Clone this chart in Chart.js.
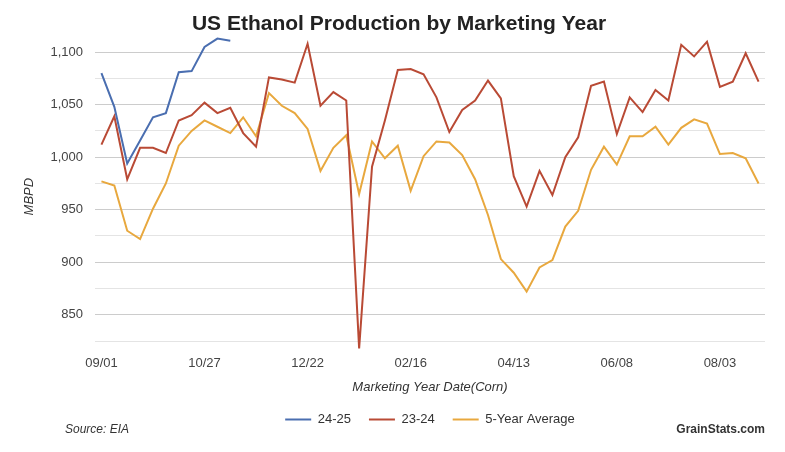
<!DOCTYPE html>
<html>
<head>
<meta charset="utf-8">
<script src="https://cdn.jsdelivr.net/npm/chart.js@4"></script>
<style>
  html, body { margin: 0; padding: 0; background: #fff; }
  #wrap { width: 785px; height: 452px; }
</style>
</head>
<body>
<div id="wrap"><canvas id="grafico"></canvas></div>
<script>
// weekly marketing year dates
const weeks = [
  "09/01","09/08","09/15","09/22","09/29","10/06","10/13","10/20",
  "10/27","11/03","11/10","11/17","11/24","12/01","12/08","12/15",
  "12/22","12/29","01/05","01/12","01/19","01/26","02/02","02/09",
  "02/16","02/23","03/02","03/09","03/16","03/23","03/30","04/06",
  "04/13","04/20","04/27","05/04","05/11","05/18","05/25","06/01",
  "06/08","06/15","06/22","06/29","07/06","07/13","07/20","07/27",
  "08/03","08/10","08/17","08/24"
]
const tickLabels = ["09/01","10/27","12/22","02/16","04/13","06/08","08/03"]

const y2425 = [1080,1048,994,1016,1038,1042,1081,1082,1105,1113,1111]
const y2324 = [
  1012,1039,979,1009,1009,1004,1035,1040,1052,1042,1047,1023,1010,
  1076,1074,1071,1108,1049,1062,1054,818,991,1035,1083,1084,1079,
  1057,1024,1045,1054,1073,1056,982,953,987,964,1000,1019,1068,
  1072,1022,1057,1043,1064,1054,1107,1096,1110,1067,1072,1099,1072
]
const avg5 = [
  977,973,930,922,951,975,1011,1025,1035,1029,1023,1038,1020,
  1061,1049,1042,1027,987,1009,1021,965,1015,999,1011,968,1001,
  1015,1014,1002,979,945,903,890,872,895,902,934,949,988,
  1010,993,1020,1020,1029,1012,1028,1036,1032,1003,1004,999,975
]

const fonte = "'Liberation Sans', Arial, sans-serif"

// texto do rodape
const rodape = {
  id: "rodape",
  afterDraw(chart) {
    const ctx = chart.ctx
    ctx.save()
    ctx.fillStyle = "#333"
    ctx.textBaseline = "middle"
    ctx.font = "italic 12px " + fonte
    ctx.textAlign = "left"
    ctx.fillText("Source: EIA", 65, 430)
    ctx.font = "bold 12px " + fonte
    ctx.textAlign = "right"
    ctx.fillText("GrainStats.com", 765, 430)
    ctx.restore()
  }
}

const ctx = document.getElementById("grafico")

new Chart(ctx, {
  type: "line",
  data: {
    labels: weeks,
    datasets: [
      { label: "24-25", data: y2425, borderColor: "#4a6eb0", backgroundColor: "#4a6eb0", borderWidth: 2 },
      { label: "23-24", data: y2324, borderColor: "#b94a35", backgroundColor: "#b94a35", borderWidth: 2 },
      { label: "5-Year Average", data: avg5, borderColor: "#e8a83e", backgroundColor: "#e8a83e", borderWidth: 2 }
    ]
  },
  options: {
    responsive: true,
    maintainAspectRatio: false,
    animation: false,
    devicePixelRatio: 1,
    layout: { padding: { left: 15, right: 2, top: 0, bottom: 16 } },
    elements: {
      line: { borderWidth: 2, tension: 0 },
      point: { radius: 0, hoverRadius: 0 }
    },
    datasets: { line: { clip: false } },
    plugins: {
      title: {
        display: true,
        text: "US Ethanol Production by Marketing Year",
        color: "#222",
        font: { family: fonte, size: 21, weight: "bold" },
        padding: { top: 12, bottom: 15 }
      },
      legend: {
        position: "bottom",
        fullSize: false,
        labels: {
          usePointStyle: true,
          pointStyle: "line",
          pointStyleWidth: 26,
          boxHeight: 13,
          color: "#333",
          font: { family: fonte, size: 13 },
          padding: 18
        }
      },
      tooltip: { enabled: false }
    },
    scales: {
      x: {
        offset: true,
        grid: { display: false, drawTicks: false },
        border: { display: false },
        ticks: {
          autoSkip: false,
          maxRotation: 0,
          padding: 15,
          color: "#444",
          font: { family: fonte, size: 13 },
          callback: function(v, i) {
            const l = weeks[i]
            return tickLabels.includes(l) ? l : ""
          }
        },
        title: {
          display: true,
          text: "Marketing Year Date(Corn)",
          color: "#333",
          font: { family: fonte, size: 13, style: "italic" },
          padding: { top: 12, bottom: 0 }
        },
        afterFit: function(scale) {
          scale.height = 54
          scale.paddingRight = 20
        }
      },
      y: {
        min: 825,
        max: 1100,
        grid: {
          drawTicks: false,
          color: c => (c.tick.value % 50 === 0 ? "#cccccc" : "#e4e4e4")
        },
        border: { display: false },
        ticks: {
          stepSize: 25,
          padding: 12,
          color: "#444",
          font: { family: fonte, size: 13 },
          callback: v => (v % 50 === 0 ? v.toLocaleString("en-US") : "")
        },
        title: {
          display: true,
          text: "MBPD",
          color: "#333",
          font: { family: fonte, size: 13, style: "italic" },
          padding: { top: 7, bottom: 0 }
        },
        afterFit: function(scale) { scale.width = 80 }
      }
    }
  },
  plugins: [rodape]
})
</script>
</body>
</html>
